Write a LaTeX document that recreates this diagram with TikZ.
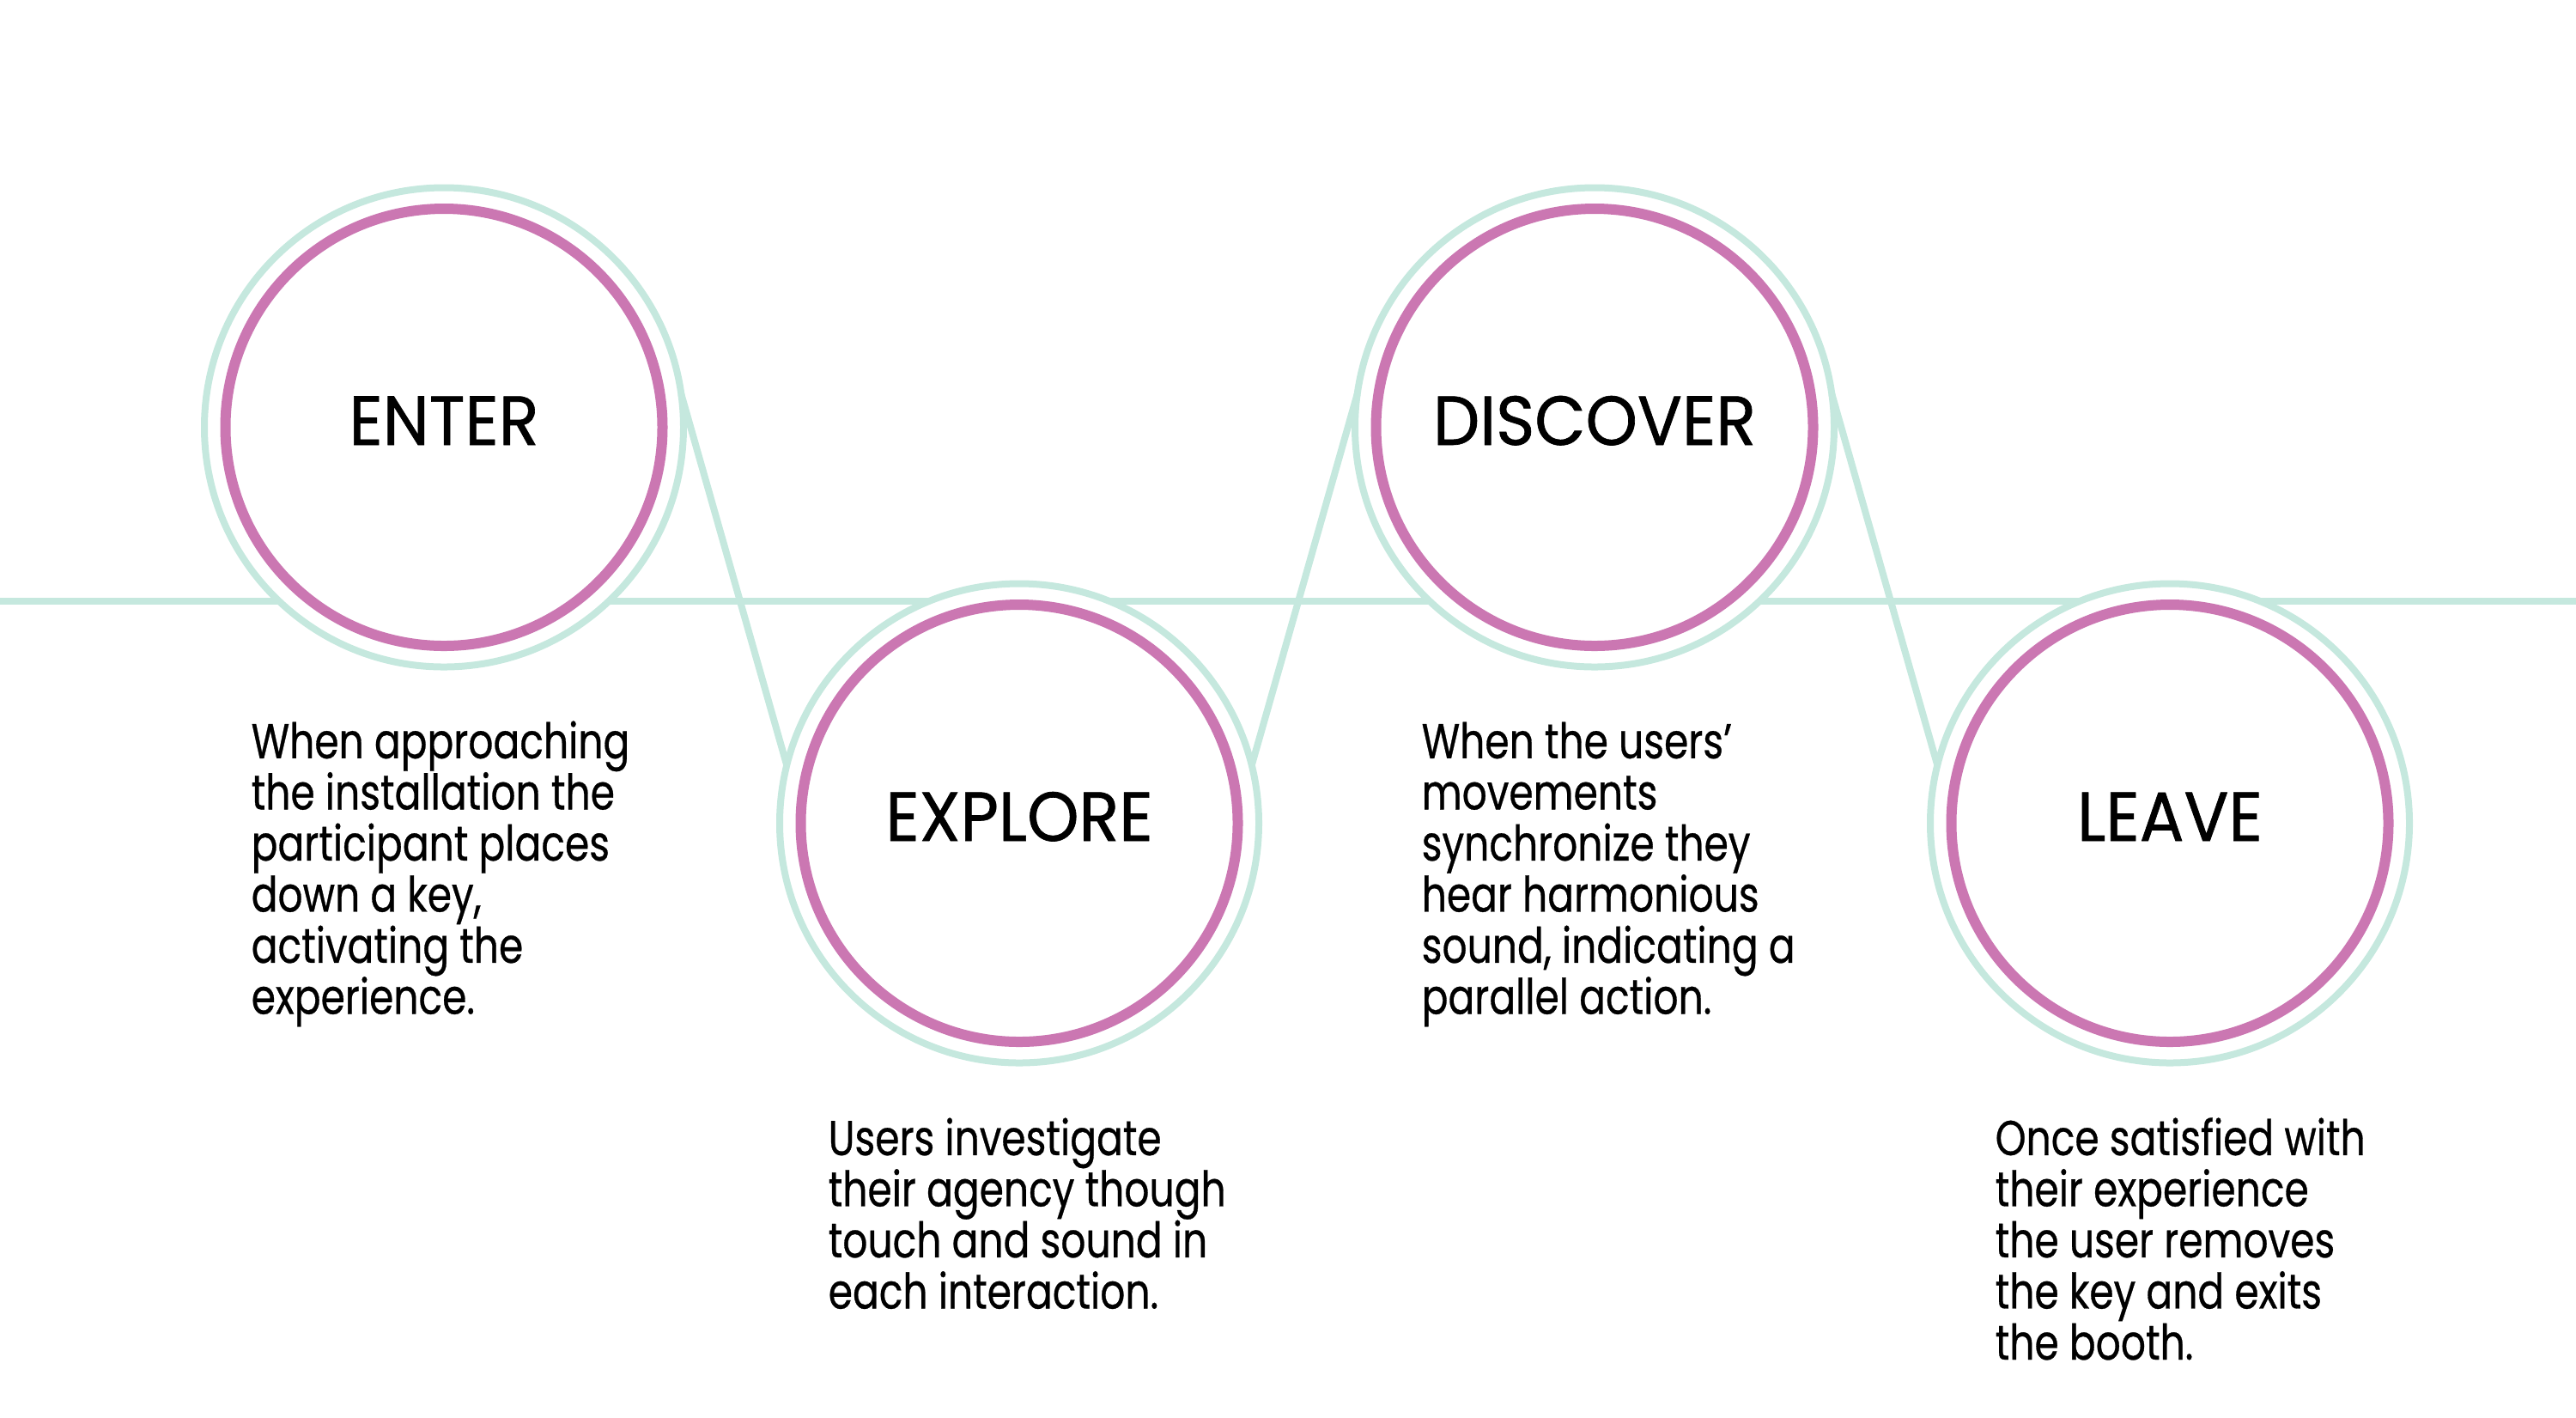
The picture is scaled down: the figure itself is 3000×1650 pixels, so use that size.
\documentclass[tikz,border=0pt]{standalone}
\usepackage{fontspec}
\setmainfont{Poppins}[FakeStretch=0.80,FakeBold=0.5]
\newfontfamily\titlefont{Poppins}[FakeStretch=0.95,FakeBold=0.8]
\definecolor{ringteal}{HTML}{C5E8DE}
\definecolor{ringpink}{HTML}{CB77B2}
\begin{document}
\begin{tikzpicture}[x=0.01cm,y=-0.01cm,
  outerring/.style={circle,draw=ringteal,line width=8*0.01cm,fill=white,
    minimum size=558*0.01cm,inner sep=0pt,outer sep=0pt},
  innerring/.style={circle,draw=ringpink,line width=12*0.01cm,
    minimum size=509*0.01cm,inner sep=0pt,outer sep=0pt},
  stagename/.style={anchor=base,font=\titlefont\fontsize{23pt}{27pt}\selectfont},
  stagetext/.style={anchor=base west,align=left,inner sep=0pt,
    font=\fontsize{16.2pt}{16.93pt}\selectfont},
  track/.style={draw=ringteal,line width=8*0.01cm}]
\useasboundingbox (0,0) rectangle (3000,1650);

% horizontal timeline behind the rings
\coordinate (lineL) at (0,700);
\coordinate (lineR) at (3000,700);
\draw[track] (lineL) -- (lineR);

% stage rings
\foreach \nm/\cx/\cy in {enter/517/497.5,explore/1187/958.5,discover/1857/497.5,leave/2527/958.5}{
  \node[outerring] (\nm) at (\cx,\cy) {};
  \node[innerring] (\nm in) at (\cx,\cy) {};
}

% stage names
\node[stagename] (enterlbl) at (517,518) {ENTER};
\node[stagename] (explorelbl) at (1187,979) {EXPLORE};
\node[stagename] (discoverlbl) at (1857,518) {DISCOVER};
\node[stagename] (leavelbl) at (2527,979) {LEAVE};

% zig-zag links between rings
\draw[track] (enter.8) -- (explore.166);
\draw[track] (explore.14) -- (discover.172);
\draw[track] (discover.8) -- (leave.166);

% descriptions (anchored on the baseline of their last line)
\node[stagetext] (entertxt) at (292,1180.5) {When approaching\\the installation the\\participant places\\down a key,\\activating the\\experience.};
\node[stagetext] (exploretxt) at (964,1523.5) {Users investigate\\their agency though\\touch and sound in\\each interaction.};
\node[stagetext] (discovertxt) at (1655,1180.5) {When the users’\\movements\\synchronize they\\hear harmonious\\sound, indicating a\\parallel action.};
\node[stagetext] (leavetxt) at (2323,1583) {Once satisfied with\\their experience\\the user removes\\the key and exits\\the booth.};
\end{tikzpicture}
\end{document}
